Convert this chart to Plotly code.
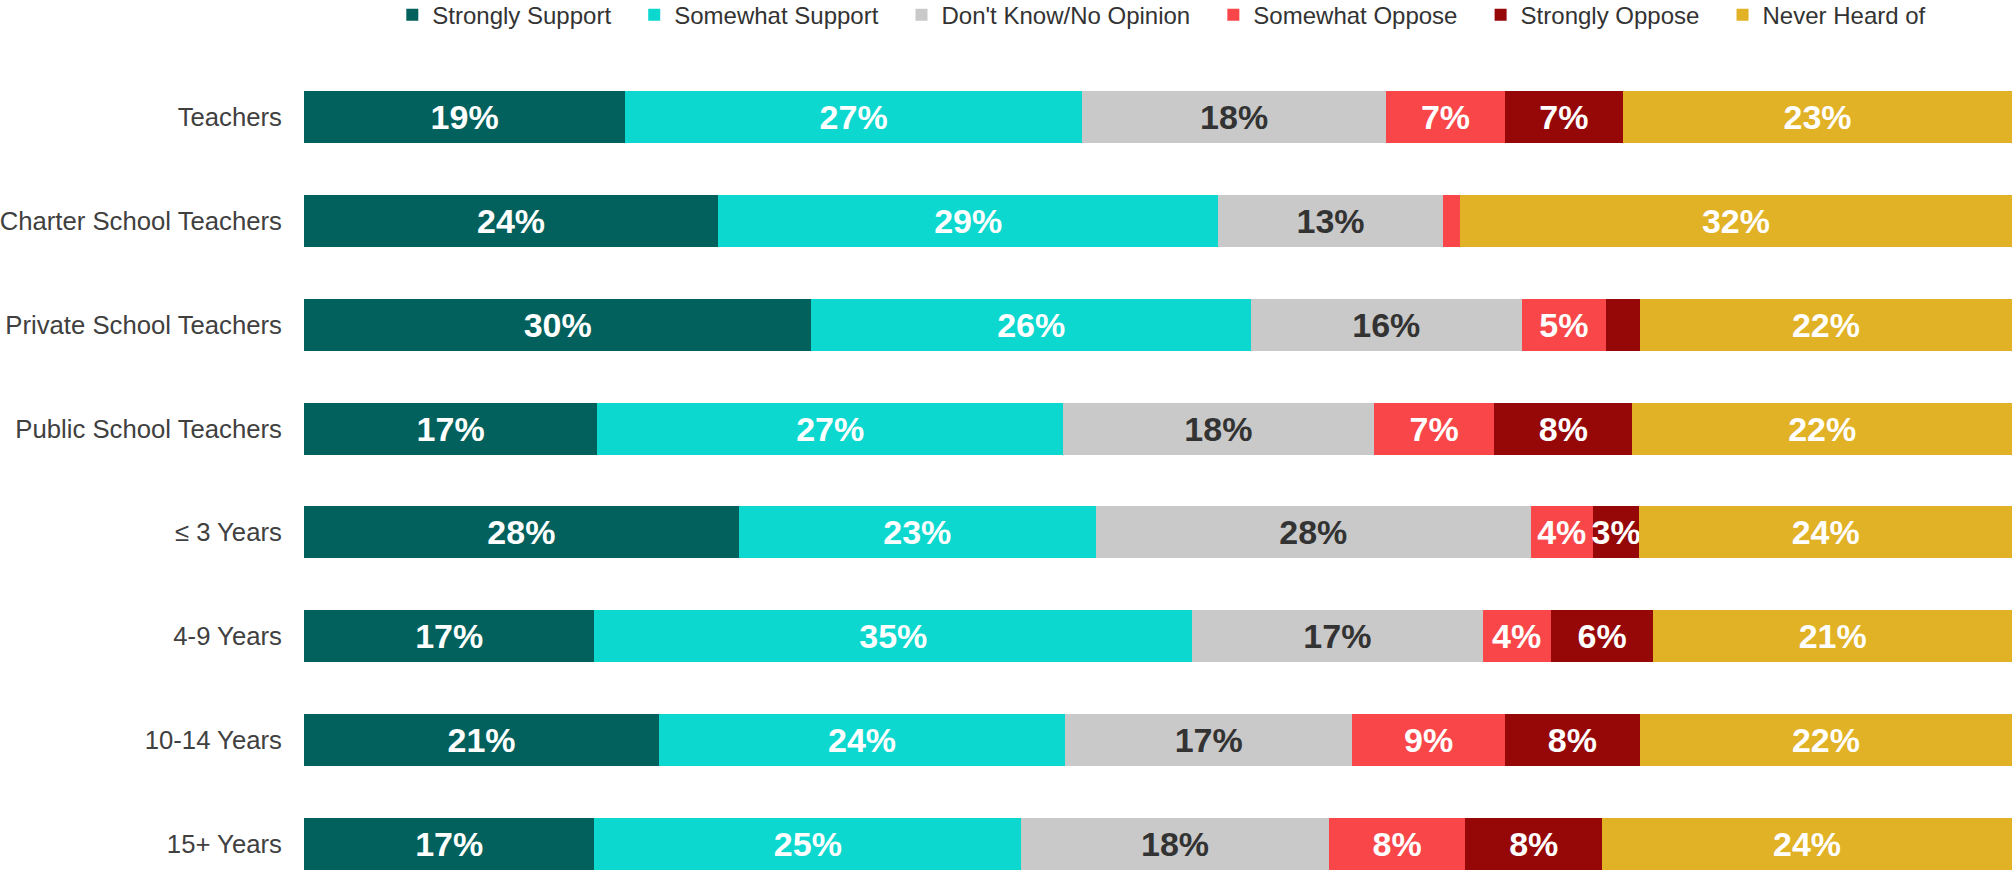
import plotly.graph_objects as go

categories = ["Teachers", "Charter School Teachers", "Private School Teachers",
              "Public School Teachers", "≤ 3 Years", "4-9 Years", "10-14 Years", "15+ Years"]

strongly_support = [19, 24, 30, 17, 28, 17, 21, 17]
somewhat_support = [27, 29, 26, 27, 23, 35, 24, 25]
dont_know = [18, 13, 16, 18, 28, 17, 17, 18]
somewhat_oppose = [7, 1, 5, 7, 4, 4, 9, 8]
strongly_oppose = [7, 0, 2, 8, 3, 6, 8, 8]
never_heard = [23, 32, 22, 22, 24, 21, 22, 24]

series_names = ["Strongly Support", "Somewhat Support", "Don't Know/No Opinion",
                "Somewhat Oppose", "Strongly Oppose", "Never Heard of"]
series_values = [strongly_support, somewhat_support, dont_know,
                 somewhat_oppose, strongly_oppose, never_heard]
colors = ["#02615D", "#0DD8CF", "#C9C9C9", "#F84649", "#960707", "#E1B126"]
label_colors = ["#FFFFFF", "#FFFFFF", "#333333", "#FFFFFF", "#FFFFFF", "#FFFFFF"]

FONT = "Arial, 'Liberation Sans', sans-serif"
PAD = "\u00a0\u00a0\u2009"  # extra spacing after each legend entry

fig = go.Figure()
for name, vals, col, lc in zip(series_names, series_values, colors, label_colors):
    fig.add_trace(go.Bar(
        name=name + PAD,
        y=categories,
        x=vals,
        orientation="h",
        marker=dict(color=col, line=dict(width=0)),
        text=[f"{v}%" if v >= 3 else "" for v in vals],
        texttemplate="%{text}",
        textposition="inside",
        insidetextanchor="middle",
        textangle=0,
        textfont=dict(family=FONT, size=34, color=lc, weight="bold"),
        cliponaxis=False,
    ))

fig.update_layout(
    barmode="stack",
    barnorm="percent",
    bargap=0.5,
    width=2013,
    height=871,
    margin=dict(l=304, r=1, t=65, b=0, autoexpand=False),
    paper_bgcolor="white",
    plot_bgcolor="white",
    uniformtext=dict(mode="show", minsize=34),
    font=dict(family=FONT, color="#404040"),
    legend=dict(
        orientation="h",
        x=0.0517, xanchor="left",
        y=1.062, yanchor="middle",
        font=dict(family=FONT, size=24, color="#333333"),
        itemwidth=30,
        traceorder="normal",
    ),
    xaxis=dict(range=[0, 100.0001], visible=False, fixedrange=True, automargin=False),
    yaxis=dict(
        range=[7.26, -0.5],
        type="category",
        automargin=False,
        showgrid=False,
        showline=False,
        zeroline=False,
        ticks="outside",
        ticklen=16,
        tickcolor="rgba(0,0,0,0)",
        tickfont=dict(family=FONT, size=25.7, color="#404040"),
    ),
)

fig.write_html(
    "out.html",
    config={"displayModeBar": False},
    post_script="document.body.style.margin='0';document.body.style.overflow='hidden';",
)
